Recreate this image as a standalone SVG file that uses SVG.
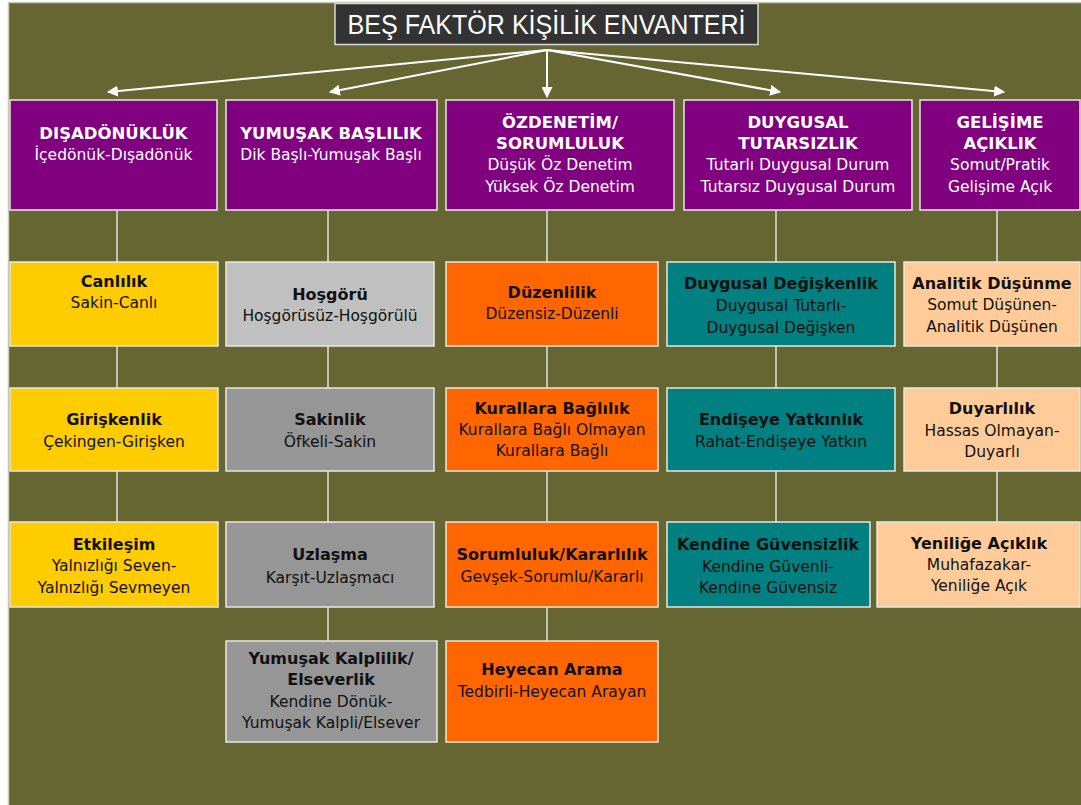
<svg xmlns="http://www.w3.org/2000/svg" width="1081" height="805" viewBox="0 0 1081 805">
<style>
.bx{stroke:#E8E8E0;stroke-width:1.5}
.pu{fill:#800080}.ye{fill:#FFCC00}.lg{fill:#C0C0C0}.gr{fill:#969696}.or{fill:#FF6600}.te{fill:#008080}.pe{fill:#FFCC99}
text{font-family:"DejaVu Sans","Liberation Sans",sans-serif;font-size:15.5px;text-anchor:middle;fill:#111}
.b{font-weight:bold;font-size:16px}
.hb{font-size:16.5px}
.w{fill:#FFFFFF}
.cn{stroke:#E0E0E0;stroke-width:1.5;fill:none}
.ar{stroke:#FFFFFF;stroke-width:2;fill:none;marker-end:url(#ah)}
</style>
<defs>
<marker id="ah" viewBox="0 0 10 10" refX="9" refY="5" markerWidth="5.5" markerHeight="5.5" orient="auto" markerUnits="strokeWidth">
<path d="M0,0 L10,5 L0,10 Z" fill="#FFFFFF"/>
</marker>
</defs>
<rect x="0" y="0" width="1081" height="805" fill="#FFFFFF"/>
<rect x="8.5" y="2.5" width="1080" height="810" fill="#666633" stroke="#C9C9B5" stroke-width="1.5"/>

<g id="title">
<rect x="335" y="3.5" width="423" height="41" fill="#333333" stroke="#D8D8D8" stroke-width="1.5"/>
<text x="546.5" y="33.5" class="w" style="font-family:'Liberation Sans',Arial,sans-serif;font-size:28px" textLength="398" lengthAdjust="spacingAndGlyphs">BEŞ FAKTÖR KİŞİLİK ENVANTERİ</text>
</g>

<g id="connectors">
<line class="ar" x1="547" y1="50" x2="108" y2="92"/>
<line class="ar" x1="547" y1="50" x2="330" y2="92"/>
<line class="ar" x1="547" y1="50" x2="547" y2="97"/>
<line class="ar" x1="547" y1="50" x2="780" y2="92"/>
<line class="ar" x1="547" y1="50" x2="1004" y2="92"/>
<path class="cn" d="M117,210V262M117,346V388M117,471V522"/>
<path class="cn" d="M328,210V262M328,346V388M328,471V522M328,607V641"/>
<path class="cn" d="M547,210V262M547,346V388M547,471V522M547,607V641"/>
<path class="cn" d="M776,210V262M776,346V388M776,471V522"/>
<path class="cn" d="M997,210V262M997,346V388M997,471V522"/>
</g>

<g id="h1"><rect class="bx pu" x="10" y="100" width="207" height="110"/>
<text x="113.5" y="139" class="b hb w">DIŞADÖNÜKLÜK</text><text x="113.5" y="160" class="w">İçedönük-Dışadönük</text></g>
<g id="h2"><rect class="bx pu" x="226" y="100" width="211" height="110"/>
<text x="331" y="139" class="b hb w">YUMUŞAK BAŞLILIK</text><text x="331" y="160" class="w">Dik Başlı-Yumuşak Başlı</text></g>
<g id="h3"><rect class="bx pu" x="446" y="100" width="228" height="110"/>
<text x="560" y="128" class="b hb w">ÖZDENETİM/</text><text x="560" y="149" class="b hb w">SORUMLULUK</text>
<text x="560" y="170" class="w">Düşük Öz Denetim</text><text x="560" y="192" class="w">Yüksek Öz Denetim</text></g>
<g id="h4"><rect class="bx pu" x="684" y="100" width="228" height="110"/>
<text x="798" y="128" class="b hb w">DUYGUSAL</text><text x="798" y="149" class="b hb w">TUTARSIZLIK</text>
<text x="798" y="170" class="w">Tutarlı Duygusal Durum</text><text x="798" y="192" class="w">Tutarsız Duygusal Durum</text></g>
<g id="h5"><rect class="bx pu" x="920" y="100" width="160" height="110"/>
<text x="1000" y="128" class="b hb w">GELİŞİME</text><text x="1000" y="149" class="b hb w">AÇIKLIK</text>
<text x="1000" y="170" class="w">Somut/Pratik</text><text x="1000" y="192" class="w">Gelişime Açık</text></g>

<g id="canlilik"><rect class="bx ye" x="10" y="262" width="208" height="84"/>
<text x="114" y="287" class="b">Canlılık</text><text x="114" y="308">Sakin-Canlı</text></g>
<g id="hosgoru"><rect class="bx lg" x="226" y="262" width="208" height="84"/>
<text x="330" y="300" class="b">Hoşgörü</text><text x="330" y="321">Hoşgörüsüz-Hoşgörülü</text></g>
<g id="duzenlilik"><rect class="bx or" x="446" y="262" width="212" height="84"/>
<text x="552" y="298" class="b">Düzenlilik</text><text x="552" y="319">Düzensiz-Düzenli</text></g>
<g id="degiskenlik"><rect class="bx te" x="667" y="262" width="228" height="84"/>
<text x="781" y="289" class="b">Duygusal Değişkenlik</text><text x="781" y="311">Duygusal Tutarlı-</text><text x="781" y="333">Duygusal Değişken</text></g>
<g id="analitik"><rect class="bx pe" x="904" y="262" width="176" height="84"/>
<text x="992" y="289" class="b">Analitik Düşünme</text><text x="992" y="310">Somut Düşünen-</text><text x="992" y="332">Analitik Düşünen</text></g>

<g id="giriskenlik"><rect class="bx ye" x="10" y="388" width="208" height="83"/>
<text x="114" y="425" class="b">Girişkenlik</text><text x="114" y="447">Çekingen-Girişken</text></g>
<g id="sakinlik"><rect class="bx gr" x="226" y="388" width="208" height="83"/>
<text x="330" y="425" class="b">Sakinlik</text><text x="330" y="447">Öfkeli-Sakin</text></g>
<g id="kurallar"><rect class="bx or" x="446" y="388" width="212" height="83"/>
<text x="552" y="414" class="b">Kurallara Bağlılık</text><text x="552" y="435">Kurallara Bağlı Olmayan</text><text x="552" y="456">Kurallara Bağlı</text></g>
<g id="endise"><rect class="bx te" x="667" y="388" width="228" height="83"/>
<text x="781" y="425" class="b">Endişeye Yatkınlık</text><text x="781" y="447">Rahat-Endişeye Yatkın</text></g>
<g id="duyarlilik"><rect class="bx pe" x="904" y="388" width="176" height="83"/>
<text x="992" y="414" class="b">Duyarlılık</text><text x="992" y="436">Hassas Olmayan-</text><text x="992" y="457">Duyarlı</text></g>

<g id="etkilesim"><rect class="bx ye" x="10" y="522" width="208" height="85"/>
<text x="114" y="550" class="b">Etkileşim</text><text x="114" y="571">Yalnızlığı Seven-</text><text x="114" y="593">Yalnızlığı Sevmeyen</text></g>
<g id="uzlasma"><rect class="bx gr" x="226" y="522" width="208" height="85"/>
<text x="330" y="560" class="b">Uzlaşma</text><text x="330" y="583">Karşıt-Uzlaşmacı</text></g>
<g id="sorumluluk"><rect class="bx or" x="446" y="522" width="212" height="85"/>
<text x="552" y="560" class="b">Sorumluluk/Kararlılık</text><text x="552" y="582">Gevşek-Sorumlu/Kararlı</text></g>
<g id="guvensizlik"><rect class="bx te" x="667" y="522" width="203" height="85"/>
<text x="768" y="550" class="b">Kendine Güvensizlik</text><text x="768" y="572">Kendine Güvenli-</text><text x="768" y="593">Kendine Güvensiz</text></g>
<g id="yenilik"><rect class="bx pe" x="877" y="522" width="203" height="85"/>
<text x="979" y="549" class="b">Yeniliğe Açıklık</text><text x="979" y="570">Muhafazakar-</text><text x="979" y="591">Yeniliğe Açık</text></g>

<g id="kalplilik"><rect class="bx gr" x="226" y="641" width="211" height="101"/>
<text x="331" y="664" class="b">Yumuşak Kalplilik/</text><text x="331" y="685" class="b">Elseverlik</text><text x="331" y="707">Kendine Dönük-</text><text x="331" y="728">Yumuşak Kalpli/Elsever</text></g>
<g id="heyecan"><rect class="bx or" x="446" y="641" width="212" height="101"/>
<text x="552" y="675" class="b">Heyecan Arama</text><text x="552" y="697">Tedbirli-Heyecan Arayan</text></g>
</svg>
